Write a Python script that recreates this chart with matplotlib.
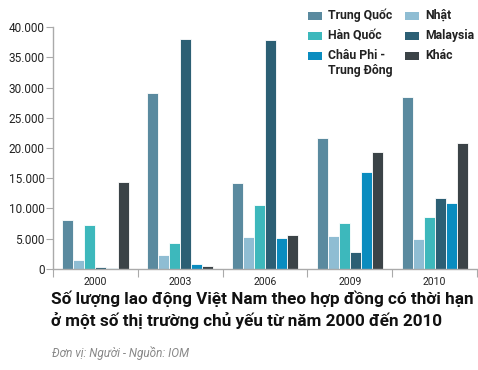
import numpy as np
import matplotlib
matplotlib.use("Agg")
import matplotlib.pyplot as plt
from matplotlib.patches import Rectangle
from matplotlib.ticker import FuncFormatter

years = ["2000", "2003", "2006", "2009", "2010"]
series = ["Trung Quốc", "Nhật", "Hàn Quốc", "Malaysia", "Châu Phi -\nTrung Đông", "Khác"]
trung_quoc = [8100, 29100, 14200, 21700, 28500]
nhat = [1500, 2300, 5300, 5450, 4950]
han_quoc = [7300, 4350, 10600, 7650, 8650]
malaysia = [300, 38100, 37900, 2800, 11700]
chau_phi = [100, 800, 5200, 16100, 10900]
khac = [14300, 500, 5600, 19400, 20800]
values = [trung_quoc, nhat, han_quoc, malaysia, chau_phi, khac]
colors = ["#5a8a9f", "#8fbdd3", "#3db8bc", "#2c5f74", "#0a8cbf", "#3b4347"]

plt.rcParams["font.family"] = ["Roboto", "DejaVu Sans"]

W, H = 478, 370
fig = plt.figure(figsize=(W / 100, H / 100), dpi=100)
ax = fig.add_axes([0.111, 0.273, 0.887, 0.654])

x = np.arange(len(years))
w = 0.13
for i, (vals, c) in enumerate(zip(values, colors)):
    ax.bar(x + (i - 2.5) * w, vals, w, color=c, edgecolor="white", linewidth=0.6)

ax.set_xlim(-0.5, len(years) - 0.5)
ax.set_ylim(0, 40000)
ax.set_yticks(range(0, 40001, 5000))
ax.yaxis.set_major_formatter(FuncFormatter(lambda v, p: f"{int(v):,}".replace(",", ".")))
ax.tick_params(axis="y", length=5, color="#aaaaaa", labelsize=8.5, pad=1, labelcolor="#222222")

ax.set_xticks(np.arange(len(years) + 1) - 0.5)
ax.set_xticklabels([])
ax.tick_params(axis="x", which="major", length=6, color="#aaaaaa")
ax.set_xticks(x, minor=True)
ax.set_xticklabels(years, minor=True)
ax.tick_params(axis="x", which="minor", length=0, labelsize=7.5, pad=6, labelcolor="#222222")

for s in ["top", "right"]:
    ax.spines[s].set_visible(False)
for s in ["left", "bottom"]:
    ax.spines[s].set_color("#aaaaaa")
    ax.spines[s].set_linewidth(1)

# legend: two columns, filled column by column (pixel layout from the reference)
order = [0, 2, 4, 1, 3, 5]
col_x = [308, 405]
row_y = [16, 36, 56]
for k, i in enumerate(order):
    px, py = col_x[k // 3], row_y[k % 3]
    fig.add_artist(Rectangle((px / W, 1 - (py + 3.5) / H), 14 / W, 7 / H,
                             transform=fig.transFigure, color=colors[i], lw=0))
    fig.text((px + 20) / W, 1 - (py - 7) / H, series[i], fontsize=8.8, fontweight="bold",
             color="#222222", va="top", linespacing=1.2)

fig.text(0.107, 0.215, "Số lượng lao động Việt Nam theo hợp đồng có thời hạn\nở một số thị trường chủ yếu từ năm 2000 đến 2010",
         fontsize=12.3, fontweight="bold", color="#111111", va="top", linespacing=1.35)
fig.text(0.109, 0.035, "Đơn vị: Người - Nguồn: IOM", fontsize=8.5, style="italic",
         color="#888888")

fig.savefig("out.png", dpi=100)
